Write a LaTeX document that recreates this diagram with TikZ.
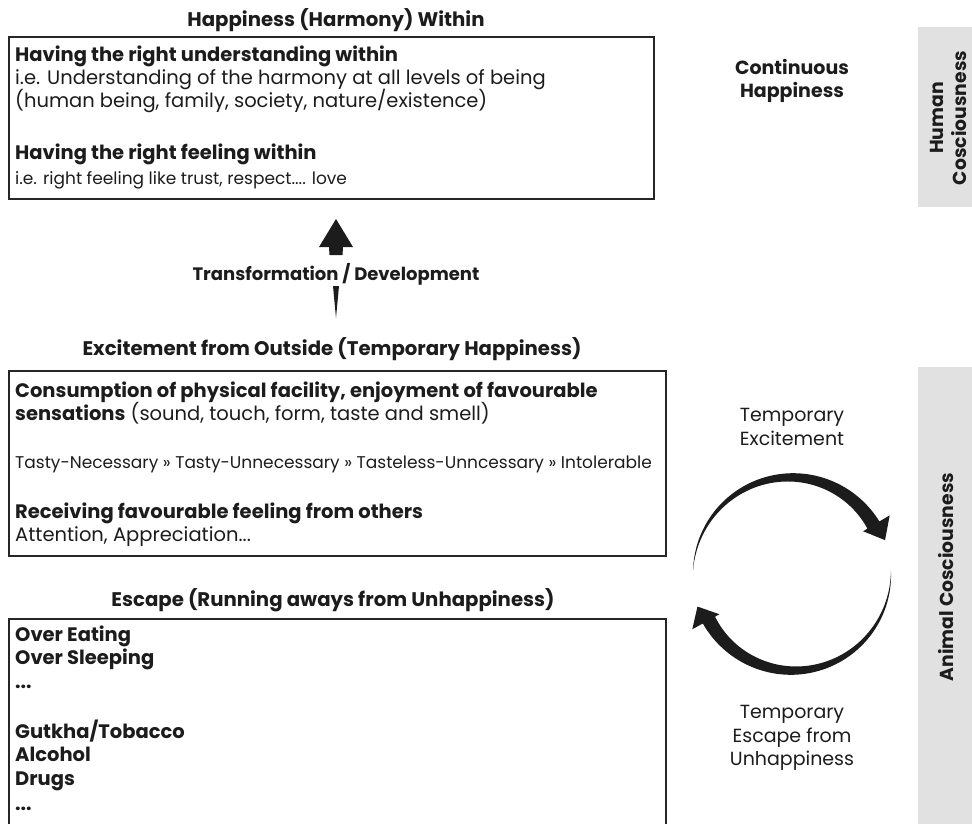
\documentclass[tikz,border=0pt]{standalone}
\usepackage{fontspec}
\setmainfont{Poppins}
\usetikzlibrary{calc}
\definecolor{ink}{HTML}{1C1C1C}
\definecolor{frame}{HTML}{262626}
\definecolor{band}{HTML}{E0E1E0}
\def\cycx{792}
\def\cycy{574}
\begin{document}
\begin{tikzpicture}[x=1pt,y=-1pt,
  every node/.style={inner sep=0pt, text=ink},
  line/.style={anchor=base west},
  hd/.style={font=\fontsize{19.5}{19.5}\selectfont\bfseries},
  bd/.style={font=\fontsize{19.5}{19.5}\selectfont},
  sm/.style={font=\fontsize{17}{17}\selectfont},
  ttl/.style={anchor=base, font=\fontsize{19.7}{19.7}\selectfont\bfseries},
  panel/.style={draw=frame, line width=2.2pt, anchor=north west},
  band/.style={fill=band, anchor=north west, minimum width=54pt},
  side/.style={align=center, font=\fontsize{19}{23.5}\selectfont},
  bandtxt/.style={rotate=90, align=center, font=\fontsize{18.8}{23}\selectfont\bfseries}
]
\useasboundingbox (0,0) rectangle (972,824);
\clip (0,0) rectangle (972,824);

% side bands
\node[band, minimum height=180pt] (hband) at (918,27) {};
\node[bandtxt] (htext) at (948,118) {Human\\Cosciousness};
\node[band, minimum height=470pt] (aband) at (918,367) {};
\node[bandtxt] (atext) at (946,577) {Animal Cosciousness};

% top panel: happiness within
\node[ttl] (t1) at (336,27) {Happiness (Harmony) Within};
\node[panel, minimum width=645pt, minimum height=162pt] (p1) at (8,36) {};
\node[line,hd] (a1) at (15,62) {Having the right understanding within};
\node[line,bd] (a2) at (15,85) {i.e. Understanding of the harmony at all levels of being};
\node[line,bd] (a3) at (15,108) {(human being, family, society, nature/existence)};
\node[line,hd] (a4) at (15,160) {Having the right feeling within};
\node[line,sm] (a5) at (15,185) {i.e. right feeling like trust, respect.... love};

% transformation arrow
\node[anchor=base, font=\fontsize{18}{18}\selectfont\bfseries] (tr) at (336,280) {Transformation / Development};
\coordinate (upTip) at (336,219);
\coordinate (upEnd) at (336,318);
\fill[ink] (upTip) -- ($(upTip)+(17,28)$) -- ($(upTip)+(7,28)$) -- ($(upTip)+(6.5,36)$)
  -- ($(upTip)+(-6.5,36)$) -- ($(upTip)+(-7,28)$) -- ($(upTip)+(-17,28)$) -- cycle;
\fill[ink] (upEnd) -- ($(upEnd)+(3,-32)$) -- ($(upEnd)+(-3,-32)$) -- cycle;

% middle panel: excitement from outside
\node[ttl] (t2) at (332,355) {Excitement from Outside (Temporary Happiness)};
\node[panel, minimum width=657pt, minimum height=185pt] (p2) at (8,370) {};
\node[line,hd] (b1) at (15,397) {Consumption of physical facility, enjoyment of favourable};
\node[line,bd] (b2) at (15,420) {\textbf{sensations} (sound, touch, form, taste and smell)};
\node[line,sm] (b3) at (15,468) {Tasty-Necessary » Tasty-Unnecessary » Tasteless-Unncessary » Intolerable};
\node[line,hd] (b4) at (15,518) {Receiving favourable feeling from others};
\node[line,bd] (b5) at (15,541) {Attention, Appreciation...};

% bottom panel: escape
\node[ttl] (t3) at (333,606) {Escape (Running aways from Unhappiness)};
\node[panel, minimum width=657pt, minimum height=240pt] (p3) at (8,618) {};
\node[line,hd] (c1) at (15,641) {Over Eating};
\node[line,hd] (c2) at (15,664) {Over Sleeping};
\node[line,hd] (c3) at (15,688) {...};
\node[line,hd] (c4) at (15,738) {Gutkha/Tobacco};
\node[line,hd] (c5) at (15,761) {Alcohol};
\node[line,hd] (c6) at (15,785) {Drugs};
\node[line,hd] (c7) at (15,810) {...};

% right-hand labels
\node[side, font=\fontsize{19}{23.5}\selectfont\bfseries] (cont) at (792,81) {Continuous\\Happiness};
\node[side] (tex) at (792,427) {Temporary\\Excitement};
\node[side] (tesc) at (792,738) {Temporary\\Escape from\\Unhappiness};

% cycle of temporary excitement and escape
\fill[ink] plot[domain=178:31, samples=70, variable=\a]
    ({\cycx+(99+3*(178-\a)/147)*cos(\a)}, {\cycy-(99+3*(178-\a)/147)*sin(\a)})
  -- ({\cycx+114*cos(31)}, {\cycy-114*sin(31)})
  -- ({\cycx+99*cos(20)}, {\cycy-99*sin(20)})
  -- ({\cycx+83*cos(31)}, {\cycy-83*sin(31)})
  -- plot[domain=31:178, samples=70, variable=\a]
    ({\cycx+(99-11*(178-\a)/147)*cos(\a)}, {\cycy-(99-11*(178-\a)/147)*sin(\a)})
  -- cycle;
\fill[ink] plot[domain=2:-151, samples=70, variable=\a]
    ({\cycx+(99+3*(2-\a)/153)*cos(\a)}, {\cycy-(99+3*(2-\a)/153)*sin(\a)})
  -- ({\cycx+114*cos(-151)}, {\cycy-114*sin(-151)})
  -- ({\cycx+100*cos(-161)}, {\cycy-100*sin(-161)})
  -- ({\cycx+83*cos(-151)}, {\cycy-83*sin(-151)})
  -- plot[domain=-151:2, samples=70, variable=\a]
    ({\cycx+(99-11*(2-\a)/153)*cos(\a)}, {\cycy-(99-11*(2-\a)/153)*sin(\a)})
  -- cycle;
\end{tikzpicture}
\end{document}
